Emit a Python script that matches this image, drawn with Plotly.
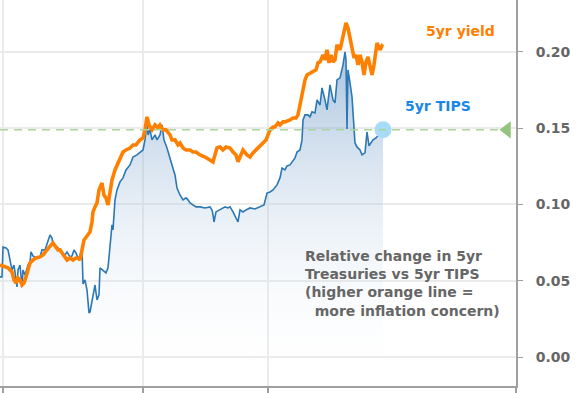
import plotly.graph_objects as go

# ---- data ----
tips_days = [
    0, 2, 3, 6, 8, 10, 12, 14, 16, 17,
    18, 20, 22, 23, 25, 28, 30, 31, 33, 36,
    40, 42, 45, 48, 50, 52, 53, 56, 60, 63,
    65, 67, 70, 72, 74, 76, 78, 80, 82, 83,
    85, 87, 89, 90, 92, 95, 97, 99, 100, 103,
    106, 108, 110, 112, 113, 115, 117, 120, 123, 126,
    130, 133, 137, 140, 143, 145, 147, 148, 150, 152,
    155, 157, 160, 162, 164, 167, 170, 172, 175, 177,
    180, 183, 186, 188, 190, 193, 196, 200, 205, 210,
    212, 213, 214, 216, 220, 225, 228, 230, 233, 236,
    238, 240, 243, 246, 250, 255, 260, 264, 267, 270,
    273, 277, 280, 282, 285, 287, 290, 293, 295, 297,
    300, 302, 303, 305, 308, 310, 312, 315, 317, 320,
    322, 325, 327, 330, 333, 335, 337, 340, 343, 345,
    346, 347, 348, 350, 352, 355, 357, 360, 362, 365,
    367, 369, 371, 373, 376, 379, 381, 383,
]
tips_vals = [
    0.0525, 0.0525, 0.0721, 0.0715, 0.0702, 0.0623, 0.0570, 0.0603, 0.0505, 0.0459,
    0.0570, 0.0603, 0.0459, 0.0570, 0.0538, 0.0603, 0.0623, 0.0689, 0.0662, 0.0649,
    0.0656, 0.0702, 0.0702, 0.0767, 0.0800, 0.0780, 0.0741, 0.0728, 0.0702, 0.0675,
    0.0669, 0.0689, 0.0656, 0.0662, 0.0702, 0.0682, 0.0649, 0.0662, 0.0715, 0.0479,
    0.0505, 0.0439, 0.0289, 0.0295, 0.0374, 0.0472, 0.0374, 0.0407, 0.0584, 0.0570,
    0.0551, 0.0584, 0.0734, 0.0866, 0.0833, 0.1030, 0.1095, 0.1148, 0.1174, 0.1226,
    0.1259, 0.1311, 0.1325, 0.1344, 0.1357, 0.1423, 0.1541, 0.1456, 0.1489, 0.1423,
    0.1456, 0.1423, 0.1456, 0.1521, 0.1423, 0.1370, 0.1311, 0.1259, 0.1193, 0.1108,
    0.1062, 0.1030, 0.1043, 0.1030, 0.1010, 0.0997, 0.0984, 0.0984, 0.0977, 0.0984,
    0.0964, 0.0931, 0.0885, 0.0951, 0.0964, 0.0984, 0.0977, 0.0984, 0.0951, 0.0911,
    0.0885, 0.0964, 0.0951, 0.0964, 0.0977, 0.0970, 0.0984, 0.0997, 0.1075, 0.1082,
    0.1095, 0.1128, 0.1174, 0.1239, 0.1226, 0.1252, 0.1259, 0.1292, 0.1305, 0.1344,
    0.1357, 0.1423, 0.1554, 0.1587, 0.1587, 0.1574, 0.1607, 0.1600, 0.1685, 0.1652,
    0.1764, 0.1685, 0.1620, 0.1784, 0.1685, 0.1666, 0.1816, 0.1830, 0.1915, 0.2000,
    0.1948, 0.1495, 0.1882, 0.1797, 0.1705, 0.1403, 0.1377, 0.1357, 0.1325, 0.1338,
    0.1475, 0.1384, 0.1403, 0.1423, 0.1436, 0.1456, 0.1469, 0.1489,
]

yield_days = [
    0, 3, 5, 8, 10, 12, 14, 16, 18, 20,
    22, 24, 26, 28, 30, 33, 36, 40, 43, 47,
    50, 53, 55, 58, 60, 63, 65, 67, 70, 73,
    76, 78, 80, 82, 84, 87, 90, 92, 93, 95,
    97, 99, 102, 104, 106, 108, 110, 112, 115, 118,
    120, 123, 126, 130, 133, 136, 140, 143, 145, 147,
    149, 152, 155, 158, 160, 163, 166, 170, 172, 175,
    178, 180, 183, 186, 190, 193, 196, 200, 205, 210,
    213, 215, 217, 220, 223, 226, 230, 233, 236, 238,
    241, 243, 247, 250, 253, 256, 260, 263, 266, 268,
    270, 273, 275, 278, 280, 283, 285, 290, 293, 296,
    298, 300, 302, 305, 307, 310, 313, 316, 318, 320,
    323, 325, 327, 329, 331, 333, 335, 337, 340, 343,
    345, 346, 348, 350, 352, 354, 356, 358, 360, 362,
    364, 366, 368, 370, 372, 374, 376, 377, 380, 382,
    383,
]
yield_vals = [
    0.0603, 0.0597, 0.0590, 0.0584, 0.0570, 0.0557, 0.0505, 0.0485, 0.0518, 0.0505,
    0.0472, 0.0485, 0.0525, 0.0570, 0.0616, 0.0636, 0.0649, 0.0656, 0.0669, 0.0702,
    0.0721, 0.0748, 0.0728, 0.0702, 0.0702, 0.0669, 0.0649, 0.0636, 0.0649, 0.0636,
    0.0649, 0.0649, 0.0636, 0.0702, 0.0767, 0.0793, 0.0820, 0.0885, 0.0951, 0.0984,
    0.1010, 0.1095, 0.1141, 0.1062, 0.1043, 0.0997, 0.1075, 0.1161, 0.1226, 0.1272,
    0.1305, 0.1344, 0.1357, 0.1370, 0.1390, 0.1390, 0.1423, 0.1436, 0.1489, 0.1574,
    0.1521, 0.1489, 0.1521, 0.1502, 0.1521, 0.1489, 0.1489, 0.1456, 0.1423, 0.1423,
    0.1390, 0.1403, 0.1370, 0.1357, 0.1357, 0.1344, 0.1344, 0.1325, 0.1311, 0.1292,
    0.1279, 0.1325, 0.1370, 0.1377, 0.1357, 0.1377, 0.1370, 0.1344, 0.1325, 0.1279,
    0.1325, 0.1357, 0.1325, 0.1311, 0.1338, 0.1357, 0.1390, 0.1403, 0.1423, 0.1456,
    0.1489, 0.1508, 0.1508, 0.1534, 0.1521, 0.1541, 0.1541, 0.1554, 0.1567, 0.1567,
    0.1587, 0.1652, 0.1718, 0.1816, 0.1849, 0.1862, 0.1869, 0.1882, 0.1928, 0.1934,
    0.1980, 0.1948, 0.2013, 0.1928, 0.1980, 0.1934, 0.1948, 0.2046, 0.2013, 0.2092,
    0.2144, 0.2190, 0.2157, 0.2092, 0.2046, 0.1961, 0.1980, 0.1915, 0.1980, 0.1934,
    0.1849, 0.1934, 0.1967, 0.1915, 0.1849, 0.1915, 0.2000, 0.2059, 0.2013, 0.2039,
    0.2033,
]

y_ticks = [0.00, 0.05, 0.10, 0.15, 0.20]
x_grid = [3, 143, 268]

Y_MIN, Y_MAX = -0.019, 0.234
X_MIN, X_MAX = 0, 516

FONT = "DejaVu Sans"
GRAY = "#666666"
ORANGE = "#ff8000"
BLUE_LINE = "#2b78b5"
BLUE_TEXT = "#1a88e8"
GREEN = "#93c47d"

last_x = tips_days[-1]
last_v = tips_vals[-1]

fig = go.Figure()

# baseline for the area fill (bottom of plot)
fig.add_trace(go.Scatter(
    x=tips_days, y=[Y_MIN] * len(tips_days), mode="lines",
    line=dict(width=0), hoverinfo="skip", showlegend=False,
))
fig.add_trace(go.Scatter(
    x=tips_days, y=tips_vals, mode="lines", fill="tonexty",
    fillgradient=dict(
        type="vertical", start=Y_MIN, stop=0.19,
        colorscale=[[0, "rgba(255,255,255,0)"], [1, "rgba(105,150,198,0.52)"]],
    ),
    line=dict(color=BLUE_LINE, width=1.6), showlegend=False,
))
fig.add_trace(go.Scatter(
    x=yield_days, y=yield_vals, mode="lines",
    line=dict(color=ORANGE, width=3.6), showlegend=False,
))
# last value dot
fig.add_trace(go.Scatter(
    x=[last_x], y=[last_v], mode="markers",
    marker=dict(color="#a6dcf8", size=17), showlegend=False,
))
# triangle at axis
fig.add_trace(go.Scatter(
    x=[507], y=[last_v], mode="markers", cliponaxis=False,
    marker=dict(color=GREEN, size=15, symbol="triangle-left"), showlegend=False,
))

shapes = [
    dict(type="line", xref="x", yref="y", x0=0, x1=500, y0=last_v, y1=last_v,
         line=dict(color="#a9d49a", width=1.5, dash="8px,6px"), layer="above"),
    dict(type="line", xref="x", yref="y", x0=268, x1=268, y0=Y_MIN, y1=Y_MAX,
         line=dict(color="#d6d6d6", width=2), layer="below"),
    dict(type="line", xref="x", yref="y", x0=3, x1=3, y0=Y_MIN, y1=Y_MAX,
         line=dict(color="#d0d0d0", width=1.5), layer="below"),
    dict(type="line", xref="paper", yref="paper", x0=1, x1=1, y0=-0.03, y1=0,
         line=dict(color="#a0a0a0", width=2)),
]

annotations = [
    dict(x=424, y=0.2138, xref="x", yref="y", text="5yr yield", showarrow=False,
         xanchor="left", yanchor="middle",
         font=dict(family=FONT, size=14, color=ORANGE, weight="bold")),
    dict(x=403, y=0.1646, xref="x", yref="y", text="5yr TIPS", showarrow=False,
         xanchor="left", yanchor="middle",
         font=dict(family=FONT, size=14, color=BLUE_TEXT, weight="bold")),
    dict(x=303, y=0.0479, xref="x", yref="y",
         text="Relative change in 5yr<br>Treasuries vs 5yr TIPS<br>(higher orange line =<br>\u00a0\u00a0more inflation concern)",
         showarrow=False, xanchor="left", yanchor="middle", align="left",
         font=dict(family=FONT, size=14, color=GRAY, weight="bold")),
]

fig.update_layout(
    width=587, height=393,
    margin=dict(l=0, r=71, t=0, b=7),
    paper_bgcolor="white", plot_bgcolor="white",
    shapes=shapes, annotations=annotations,
    xaxis=dict(
        range=[X_MIN, X_MAX], tickvals=x_grid, showticklabels=False,
        showgrid=True, gridcolor="#ebebeb", gridwidth=2,
        ticks="outside", ticklen=7, tickcolor="#a0a0a0", tickwidth=2,
        showline=True, linecolor="#a0a0a0", linewidth=2,
        zeroline=False, fixedrange=True,
    ),
    yaxis=dict(
        range=[Y_MIN, Y_MAX], side="right", tickvals=y_ticks, tickformat=".2f",
        showgrid=True, gridcolor="#ebebeb", gridwidth=1.5,
        ticks="outside", ticklen=5, tickcolor="#a0a0a0",
        showline=True, linecolor="#a0a0a0", linewidth=2,
        ticklabelstandoff=10,
        tickfont=dict(family=FONT, size=14, color=GRAY, weight="bold"),
        zeroline=False, fixedrange=True,
    ),
)

fig.write_html(
    "out.html",
    config={"displayModeBar": False},
    post_script="document.body.style.margin='0';document.body.style.overflow='hidden';",
)
